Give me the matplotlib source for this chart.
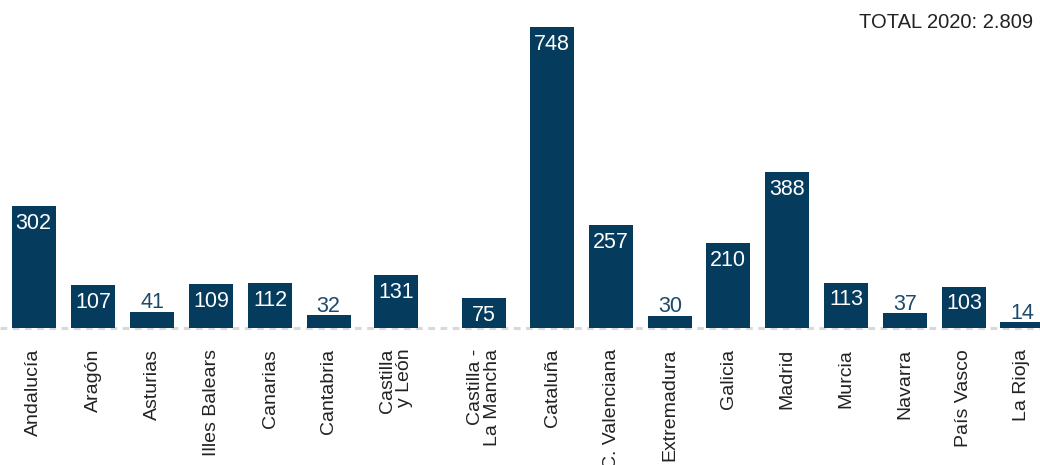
import matplotlib
matplotlib.use("Agg")
import matplotlib.pyplot as plt

FONT = "Liberation Sans"

regions = ["Andalucía", "Aragón", "Asturias", "Illes Balears", "Canarias", "Cantabria",
           "Castilla\ny León", "Castilla -\nLa Mancha", "Cataluña", "C. Valenciana",
           "Extremadura", "Galicia", "Madrid", "Murcia", "Navarra", "País Vasco", "La Rioja"]
values = [302, 107, 41, 109, 112, 32, 131, 75, 748, 257, 30, 210, 388, 113, 37, 103, 14]
title_text = "TOTAL 2020: 2.809"

# layout: bar centres in pixel units of the figure width
centers = [33.5, 93, 152, 211, 270, 328.5, 396, 484, 552, 611, 670, 728, 787, 846, 905, 964, 1022]
bar_w = 44

BAR = "#053c5e"
fig = plt.figure(figsize=(10.4, 4.65), dpi=100)
ax = fig.add_axes([0, (465 - 328) / 465, 1, 328 / 465])
ax.bar(centers, values, width=bar_w, color=BAR, zorder=2)
ax.set_xlim(0, 1040)
ax.set_ylim(0, 328 / 0.4024)
for s in ax.spines.values():
    s.set_visible(False)
ax.set_yticks([])
ax.axhline(0, color="#d9d9d9", lw=2.2, ls=(0, (2.2, 1.8)), zorder=1, clip_on=False)

for x, v in zip(centers, values):
    if v >= 50:
        ax.annotate(str(v), (x, v), xytext=(0, -5), textcoords="offset points",
                    ha="center", va="top", color="white", fontsize=15.5, family=FONT)
    else:
        ax.annotate(str(v), (x, v), xytext=(0, 2.5), textcoords="offset points",
                    ha="center", va="baseline", color="#1d4a6a", fontsize=15.5, family=FONT)

ax.set_xticks(centers)
ax.set_xticklabels(regions, rotation=90, ha="center", va="top", multialignment="right",
                   fontsize=14, family=FONT, color="#222222", linespacing=1.0)
ax.tick_params(axis="x", length=0, pad=15)

fig.text(1033 / 1040, 1 - 22 / 465, title_text, ha="right", va="center",
         fontsize=14.5, family=FONT, color="#222222")

fig.savefig("out.png", dpi=100)
